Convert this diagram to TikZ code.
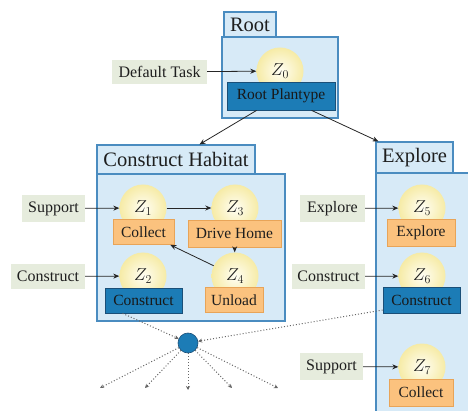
\documentclass[tikz,border=0pt]{standalone}
\usepackage{fontspec}
\setmainfont{Liberation Serif}
\newfontfamily\diagfont{Liberation Serif}
\usetikzlibrary{arrows.meta}
\definecolor{contfill}{HTML}{D7EAF7}
\definecolor{contdraw}{HTML}{4A8CC0}
\definecolor{orfill}{HTML}{FBC27E}
\definecolor{ordraw}{HTML}{E8A458}
\definecolor{bluefill}{HTML}{1C7CB6}
\definecolor{bluedraw}{HTML}{1A4F78}
\definecolor{lblfill}{HTML}{E6ECDD}
\definecolor{txt}{HTML}{1E1E1E}
\definecolor{circin}{HTML}{FFFEF4}
\definecolor{circout}{HTML}{F6EBA6}
\tikzset{
  container/.style={draw=contdraw, fill=contfill, line width=1.1pt, rectangle, inner sep=0pt},
  tabbox/.style={container, text=txt, font=\diagfont\fontsize{20.5}{22}\selectfont},
  statecirc/.style={circle, minimum size=47pt, inner sep=0pt, inner color=circin, outer color=circout, text=txt, font=\fontsize{18}{20}\selectfont},
  orbox/.style={draw=ordraw, fill=orfill, line width=0.8pt, text=txt, inner sep=0pt, font=\diagfont\fontsize{15.5}{17}\selectfont},
  bluebox/.style={draw=bluedraw, fill=bluefill, line width=0.8pt, text=txt!80!black, inner sep=0pt, font=\diagfont\fontsize{15.5}{17}\selectfont},
  lbl/.style={fill=lblfill, text=txt, inner sep=0pt, font=\diagfont\fontsize{16}{18}\selectfont},
  arr/.style={-{Stealth[length=6pt,width=5pt]}, line width=0.8pt, draw=black!85},
  dotarr/.style={dotted, line width=1pt, draw=black!60, -{Stealth[length=4pt,width=4pt]}},
}
\begin{document}
\begin{tikzpicture}[x=1pt,y=-1pt]
\useasboundingbox (0,0) rectangle (468,411);
% Root container
\node[container, minimum width=116pt, minimum height=81pt] (rootbody) at (280,77.5) {};
\node[tabbox, minimum width=52pt, minimum height=25pt] (roottab) at (250,24.5) {Root};
\node[statecirc] (z0) at (280,71) {$Z_0$};
\node[bluebox, minimum width=108pt, minimum height=28pt] (rootplan) at (281,96) {Root Plantype};
\node[lbl, minimum width=95pt, minimum height=24pt] (deflbl) at (159.5,72) {Default Task};
\draw[arr] (deflbl) -- (z0);

% Construct Habitat container
\node[container, minimum width=188pt, minimum height=147pt] (chbody) at (191,247.5) {};
\node[tabbox, minimum width=158pt, minimum height=29pt] (chtab) at (176,159.5) {Construct Habitat};
\node[statecirc] (z1) at (143,208) {$Z_1$};
\node[statecirc] (z3) at (235,208) {$Z_3$};
\node[statecirc] (z2) at (143,276) {$Z_2$};
\node[statecirc] (z4) at (235,276) {$Z_4$};
\node[orbox, minimum width=61pt, minimum height=25pt] (collect1) at (143.5,232) {Collect};
\node[orbox, minimum width=93pt, minimum height=27pt] (drive) at (234.5,233.5) {Drive Home};
\node[bluebox, minimum width=77pt, minimum height=25pt] (con2) at (143.5,300.5) {Construct};
\node[orbox, minimum width=58pt, minimum height=25pt] (unload) at (234,300) {Unload};
\node[lbl, minimum width=63pt, minimum height=27pt] (sup1) at (53.5,208.5) {Support};
\node[lbl, minimum width=74pt, minimum height=25pt] (con1lbl) at (48,276.5) {Construct};
\draw[arr] (sup1) -- (z1);
\draw[arr] (con1lbl) -- (z2);
\draw[arr] (z1) -- (z3);
\draw[arr] (drive) -- (z4);
\draw[arr] (z4) -- (collect1);

% Explore container
\node[container, minimum width=104pt, minimum height=250pt] (exbody) at (428,298) {};
\node[tabbox, minimum width=77pt, minimum height=31pt] (extab) at (414.5,157.5) {Explore};
\node[statecirc] (z5) at (422,208) {$Z_5$};
\node[statecirc] (z6) at (422,276) {$Z_6$};
\node[statecirc] (z7) at (422,367) {$Z_7$};
\node[orbox, minimum width=68pt, minimum height=27pt] (explorebox) at (421,233) {Explore};
\node[bluebox, minimum width=77pt, minimum height=26pt] (con6) at (421.5,300) {Construct};
\node[orbox, minimum width=64pt, minimum height=27pt] (collect7) at (421,392.5) {Collect};
\node[lbl, minimum width=65pt, minimum height=27pt] (explbl) at (332.5,208.5) {Explore};
\node[lbl, minimum width=73pt, minimum height=25pt] (con6lbl) at (328.5,276.5) {Construct};
\node[lbl, minimum width=63pt, minimum height=27pt] (sup7) at (331.5,366.5) {Support};
\draw[arr] (explbl) -- (z5);
\draw[arr] (con6lbl) -- (z6);
\draw[arr] (sup7) -- (z7);

% Root to children
\draw[arr] ([xshift=30pt]rootplan.south west) -- ([xshift=103pt]chtab.north west);
\draw[arr] ([xshift=85pt]rootplan.south west) -- ([xshift=3pt]extab.north west);

% hub
\node[circle, minimum size=20pt, inner sep=0pt, fill=bluefill, draw=bluedraw, line width=0.6pt] (hub) at (188,343) {};
\draw[dotarr] ([xshift=18pt]con2.south west) -- (hub);
\draw[dotarr] ([yshift=-10pt]con6.west) -- (hub);
\coordinate (e1) at (100,388);
\coordinate (e2) at (145,388);
\coordinate (e3) at (188,390);
\coordinate (e4) at (232,388);
\coordinate (e5) at (278,388);
\foreach \e in {e1,e2,e3,e4,e5} \draw[dotarr] (hub) -- (\e);
\end{tikzpicture}
\end{document}
